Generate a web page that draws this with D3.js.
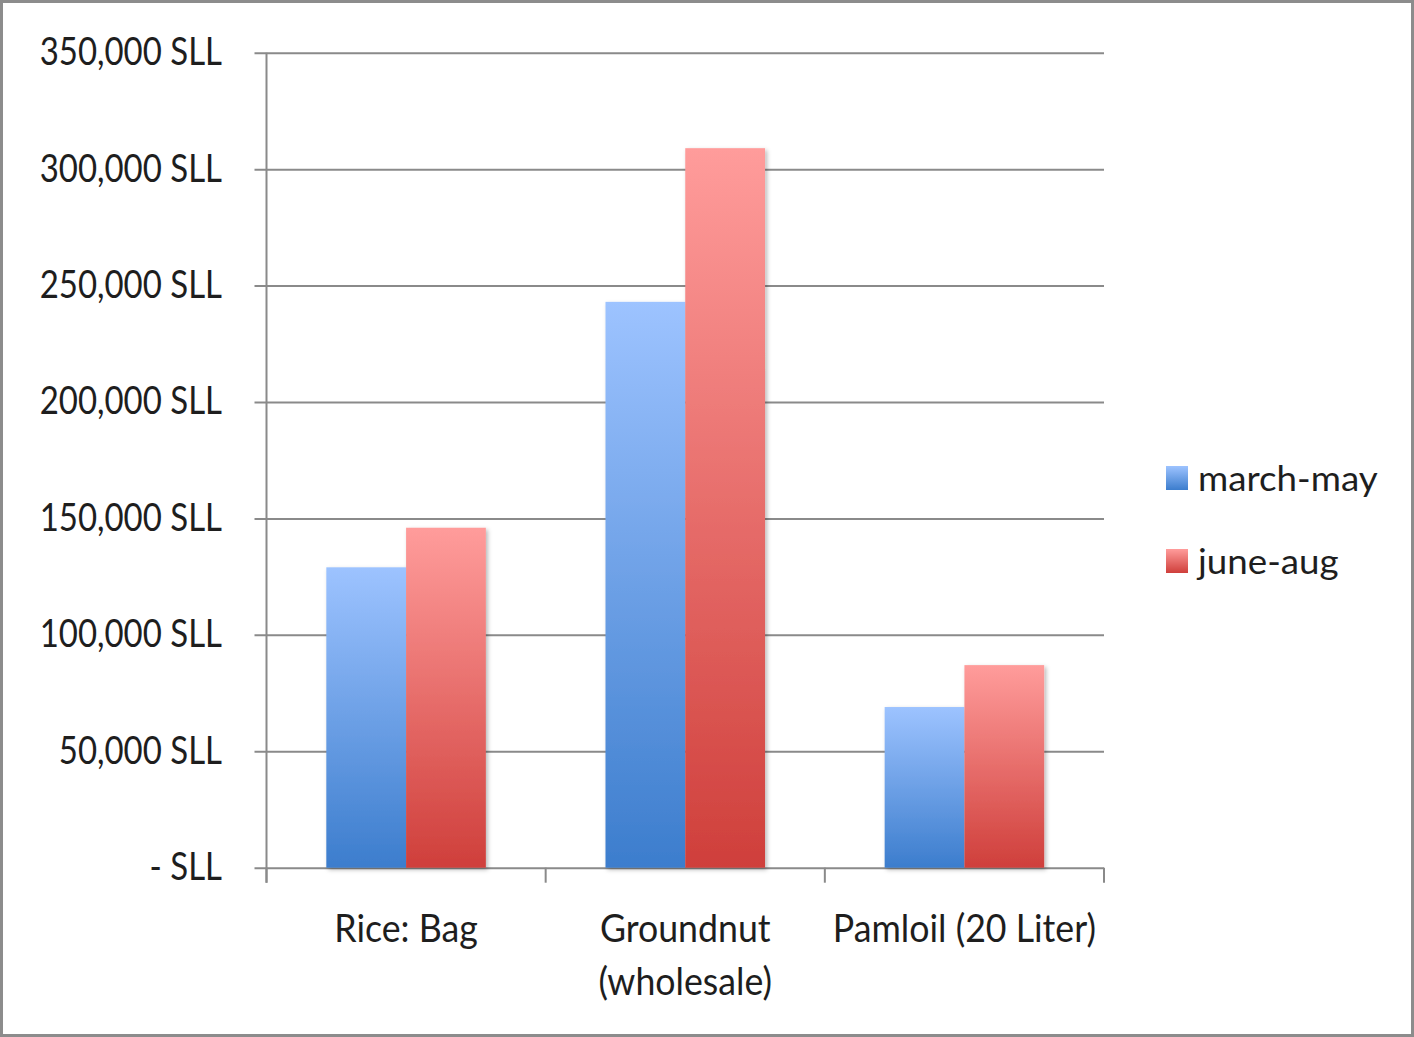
<!DOCTYPE html>
<html>
<head>
<meta charset="utf-8">
<script src="https://cdn.jsdelivr.net/npm/d3@7"></script>
<style>
  html, body { margin: 0; padding: 0; background: #fff; }
  svg { display: block; }
  text { font-family: Lato, "Open Sans", sans-serif; fill: #1e1e1e; }
</style>
</head>
<body>
<svg id="chart" width="1414" height="1037"></svg>
<script>
// Average prices by commodity and season
const categories = [["Rice: Bag"], ["Groundnut", "(wholesale)"], ["Pamloil (20 Liter)"]];
const seriesNames = ["march-may", "june-aug"];
const marchMay = [129000, 243000, 69000];
const juneAug = [146000, 309000, 87000];
const yTickValues = [0, 50000, 100000, 150000, 200000, 250000, 300000, 350000];

const W = 1414, H = 1037;
const plot = { left: 266.5, right: 1104, top: 52.7, bottom: 867.7 };
const gridColor = "#8a8a8a";

const svg = d3.select("#chart");

// gradients for the two series
const defs = svg.append("defs");
const gradSpecs = [
  { id: "g0", top: "#9dc3ff", bottom: "#3c7dcd" },
  { id: "g1", top: "#ff9c9b", bottom: "#cf3f3b" }
];
gradSpecs.forEach(g => {
  const lg = defs.append("linearGradient").attr("id", g.id)
    .attr("x1", 0).attr("y1", 0).attr("x2", 0).attr("y2", 1);
  lg.append("stop").attr("offset", "0%").attr("stop-color", g.top);
  lg.append("stop").attr("offset", "100%").attr("stop-color", g.bottom);
});
const shadow = defs.append("filter").attr("id", "shadow")
  .attr("x", "-10%").attr("y", "-5%").attr("width", "130%").attr("height", "115%");
shadow.append("feDropShadow").attr("dx", 2).attr("dy", 2)
  .attr("stdDeviation", 2).attr("flood-color", "#000").attr("flood-opacity", 0.28);

// frame
svg.append("rect").attr("x", 1.5).attr("y", 1.5)
  .attr("width", W - 3).attr("height", H - 3)
  .attr("fill", "#fff").attr("stroke", "#8c8c8c").attr("stroke-width", 3);

const y = d3.scaleLinear().domain([0, 350000]).range([plot.bottom, plot.top]);
const catKeys = categories.map(c => c.join(" "));
const x0 = d3.scaleBand().domain(catKeys).range([plot.left, plot.right]);
const bw = x0.bandwidth();
const x1 = d3.scaleBand().domain(seriesNames)
  .range([bw * 0.75 / 3.5, bw * 2.75 / 3.5]);

// horizontal gridlines (extend left past the axis as tick marks)
svg.append("g").attr("transform", `translate(${plot.right},0)`)
  .call(d3.axisRight(y).tickValues(yTickValues).tickSize(-(plot.right - plot.left + 12)).tickFormat(""))
  .call(g => g.select(".domain").remove())
  .call(g => g.selectAll(".tick line").attr("stroke", gridColor).attr("stroke-width", 2));

// vertical axis line
svg.append("line").attr("x1", plot.left).attr("x2", plot.left)
  .attr("y1", plot.top).attr("y2", plot.bottom + 15)
  .attr("stroke", gridColor).attr("stroke-width", 2);

// category tick marks below baseline
const catEdges = catKeys.map(k => x0(k)).concat([plot.right]);
svg.append("g").selectAll("line").data(catEdges).join("line")
  .attr("x1", d => d).attr("x2", d => d)
  .attr("y1", plot.bottom).attr("y2", plot.bottom + 15)
  .attr("stroke", gridColor).attr("stroke-width", 2);

// bars
const seriesValues = [marchMay, juneAug];
const barData = [];
catKeys.forEach((k, i) => {
  seriesNames.forEach((s, j) => barData.push({ cat: k, series: s, si: j, value: seriesValues[j][i] }));
});
svg.append("g").attr("filter", "url(#shadow)")
  .selectAll("rect").data(barData).join("rect")
  .attr("x", d => x0(d.cat) + x1(d.series))
  .attr("width", x1.bandwidth())
  .attr("y", d => y(d.value))
  .attr("height", d => y(0) - y(d.value))
  .attr("fill", d => `url(#g${d.si})`);

// y tick labels
const fmt = d3.format(",");
const ySx = 0.856;
svg.append("g").selectAll("text").data(yTickValues).join("text")
  .attr("transform", d => `translate(222,${y(d) + 12.5}) scale(${ySx},1)`)
  .attr("text-anchor", "end")
  .attr("font-size", 38.5)
  .text(d => d === 0 ? "- SLL" : fmt(d) + " SLL");

// category labels
const xSx = 0.94;
const xl = svg.append("g").selectAll("g").data(categories).join("g")
  .attr("transform", (d, i) => `translate(${x0(catKeys[i]) + bw / 2},942) scale(${xSx},1)`);
xl.selectAll("text").data(d => d).join("text")
  .attr("y", (d, i) => i * 53)
  .attr("text-anchor", "middle")
  .attr("font-size", 38)
  .text(d => d);

// legend
const legend = svg.append("g").selectAll("g").data(seriesNames).join("g")
  .attr("transform", (d, i) => `translate(1166,${466 + i * 83})`);
legend.append("rect").attr("width", 22).attr("height", 24)
  .attr("fill", (d, i) => `url(#g${i})`);
legend.append("text")
  .attr("transform", "translate(32,25) scale(1.08,1)")
  .attr("font-size", 34)
  .text(d => d);
</script>
</body>
</html>
